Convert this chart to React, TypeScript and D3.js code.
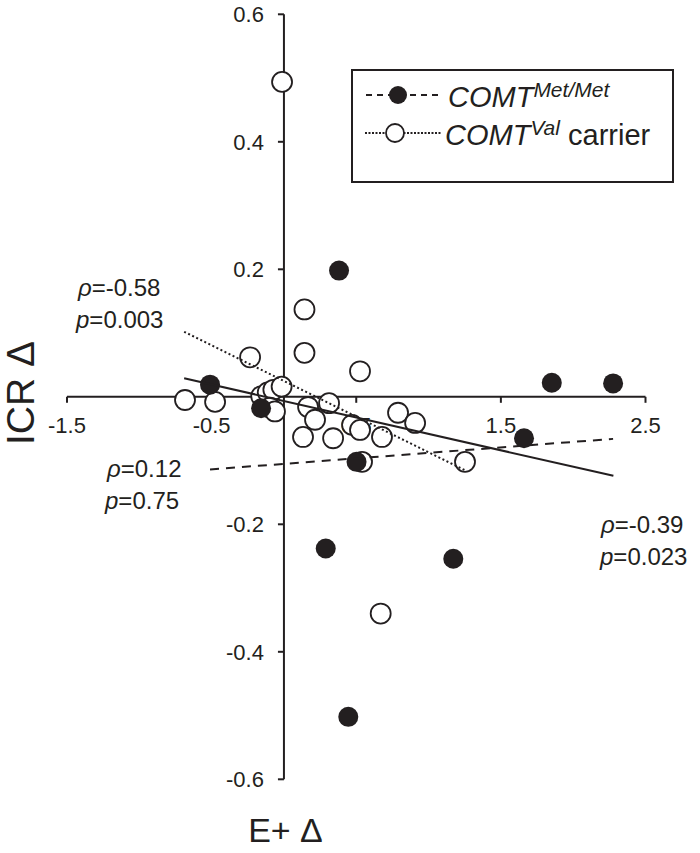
import React from "react";
import * as d3 from "d3";

// ---- data ----
const metX = [-0.511, -0.158, 0.381, 1.852, 2.276, 1.66, 0.502, 0.289, 1.171, 0.445];
const metY = [0.019, -0.018, 0.198, 0.022, 0.021, -0.065, -0.102, -0.238, -0.254, -0.502];

const valX = [-0.013, 0.142, 0.142, -0.234, 0.526, -0.684, -0.476, -0.157, -0.112, -0.073, -0.016, -0.096, -0.062, 0.167, 0.312, 0.215, 0.132, 0.34, 0.471, 0.526, 0.678, 0.789, 0.907, 0.54, 1.252, 0.669];
const valY = [0.494, 0.137, 0.069, 0.062, 0.04, -0.005, -0.008, 0.001, 0.007, 0.011, 0.016, -0.017, -0.023, -0.016, -0.01, -0.036, -0.063, -0.065, -0.044, -0.052, -0.063, -0.025, -0.041, -0.102, -0.102, -0.34];

// trendline endpoints (x, y)
const metTrend: [number, number][] = [[-0.511, -0.114], [2.276, -0.066]];
const valTrend: [number, number][] = [[-0.69, 0.102], [1.25, -0.115]];
const allTrend: [number, number][] = [[-0.69, 0.029], [2.278, -0.124]];

const xTicks = [-1.5, -0.5, 0.5, 1.5, 2.5];
const yTicks = [0.6, 0.4, 0.2, -0.2, -0.4, -0.6];

const W = 700;
const H = 853;
const FONT = "'Liberation Sans', Arial, Helvetica, sans-serif";
const INK = "#231f20";

export default function App() {
  const x = d3.scaleLinear().domain([-1.5, 2.5]).range([67, 645.5]);
  const y = d3.scaleLinear().domain([-0.6, 0.6]).range([779.3, 14.3]);
  const line = d3
    .line<[number, number]>()
    .x((d) => x(d[0]))
    .y((d) => y(d[1]));
  const x0 = x(0);
  const y0 = y(0);
  const r = 10;

  return (
    <svg
      width={W}
      height={H}
      viewBox={`0 0 ${W} ${H}`}
      style={{ position: "absolute", left: 0, top: 0, background: "#fff" }}
      fontFamily={FONT}
    >
      <rect x={0} y={0} width={W} height={H} fill="#fff" />
      {/* axes */}
      <g stroke={INK} strokeWidth={2} fill="none">
        <line x1={x(-1.5)} x2={x(2.5)} y1={y0} y2={y0} />
        <line x1={x0} x2={x0} y1={y(0.6)} y2={y(-0.6)} />
        {xTicks.map((t) => (
          <line key={"xt" + t} x1={x(t)} x2={x(t)} y1={y0} y2={y0 + 6} />
        ))}
        {yTicks.map((t) => (
          <line key={"yt" + t} x1={x0 - 6} x2={x0} y1={y(t)} y2={y(t)} />
        ))}
      </g>
      <g fontSize={22} fill={INK}>
        {xTicks.map((t) => (
          <text key={"xl" + t} x={x(t)} y={y0 + 36} textAnchor="middle">
            {String(t)}
          </text>
        ))}
        {yTicks.map((t) => (
          <text key={"yl" + t} x={x0 - 20} y={y(t) + 8} textAnchor="end">
            {String(t)}
          </text>
        ))}
      </g>

      {/* points */}
      <g fill="#fff" stroke={INK} strokeWidth={1.8}>
        {valX.map((v, i) => (
          <circle key={"v" + i} cx={x(v)} cy={y(valY[i])} r={r} />
        ))}
      </g>
      <g fill={INK}>
        {metX.map((v, i) => (
          <circle key={"m" + i} cx={x(v)} cy={y(metY[i])} r={r} />
        ))}
      </g>

      {/* trendlines */}
      <g fill="none" stroke={INK}>
        <path d={line(allTrend) || ""} strokeWidth={2} />
        <path d={line(metTrend) || ""} strokeWidth={2} strokeDasharray="9,7" />
        <path d={line(valTrend) || ""} strokeWidth={2} strokeDasharray="2,2.5" />
      </g>

      {/* annotations */}
      <g fontSize={24} fill={INK}>
        <text x={78} y={296}>
          <tspan fontStyle="italic">ρ</tspan>=-0.58
        </text>
        <text x={76} y={328}>
          <tspan fontStyle="italic">p</tspan>=0.003
        </text>
        <text x={107} y={477}>
          <tspan fontStyle="italic">ρ</tspan>=0.12
        </text>
        <text x={105} y={509}>
          <tspan fontStyle="italic">p</tspan>=0.75
        </text>
        <text x={601} y={533}>
          <tspan fontStyle="italic">ρ</tspan>=-0.39
        </text>
        <text x={600} y={565}>
          <tspan fontStyle="italic">p</tspan>=0.023
        </text>
      </g>

      {/* legend */}
      <rect x={352} y={70} width={321} height={112} fill="#fff" stroke={INK} strokeWidth={2} />
      <line x1={366} x2={441} y1={95} y2={95} stroke={INK} strokeWidth={2} strokeDasharray="6,5" />
      <circle cx={398} cy={95} r={9} fill={INK} />
      <line x1={365} x2={441} y1={133} y2={133} stroke={INK} strokeWidth={2} strokeDasharray="2,1.5" />
      <circle cx={395} cy={133} r={9} fill="#fff" stroke={INK} strokeWidth={1.8} />
      <text x={448} y={107} fontSize={29} fill={INK}>
        <tspan fontStyle="italic">COMT</tspan>
        <tspan fontStyle="italic" fontSize={21} dy={-10}>
          Met/Met
        </tspan>
      </text>
      <text x={445} y={145} fontSize={29} fill={INK}>
        <tspan fontStyle="italic">COMT</tspan>
        <tspan fontStyle="italic" fontSize={21} dy={-10}>
          Val
        </tspan>
        <tspan dy={10}> carrier</tspan>
      </text>

      {/* axis titles */}
      <text
        transform={`translate(34, 393) rotate(-90)`}
        textAnchor="middle"
        fontSize={39}
        fill={INK}
      >
        ICR Δ
      </text>
      <text x={285.5} y={842} textAnchor="middle" fontSize={34} fill={INK}>
        E+ Δ
      </text>
    </svg>
  );
}
